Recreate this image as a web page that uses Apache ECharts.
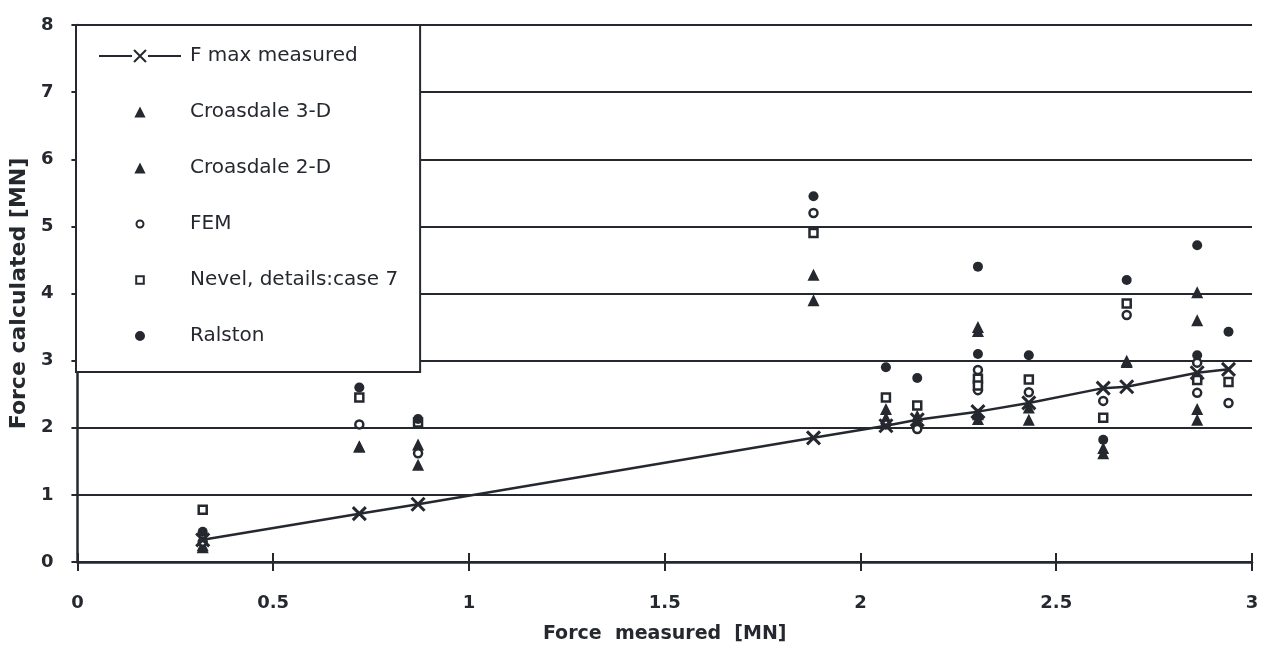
<!DOCTYPE html>
<html>
<head>
<meta charset="utf-8">
<script src="https://cdn.jsdelivr.net/npm/echarts@6/dist/echarts.min.js"></script>
<style>
  html, body { margin: 0; padding: 0; background: #fff; }
  #chart { width: 1269px; height: 655px; }
</style>
</head>
<body>
<div id="chart"></div>
<script>
// Measured ice force for each test [MN]
const measuredForce = [0.32, 0.72, 0.87, 1.88, 2.065, 2.145, 2.30, 2.43, 2.62, 2.68, 2.86, 2.94];
// Maximum measured force, plotted as the reference line
const fMaxMeasured = [0.33, 0.72, 0.86, 1.85, 2.03, 2.12, 2.24, 2.37, 2.59, 2.61, 2.82, 2.87];
// Calculated forces per method; a list holds several runs at the same measured force
const croasdale3D = [0.22, 1.72, 1.75, 4.28, 2.28, 2.18, [3.50, 2.20], 2.30, 1.70, 3.00, [4.02, 2.28], null];
const croasdale2D = [0.25, 1.72, 1.45, 3.90, 2.15, 2.10, [3.44, 2.13], 2.12, 1.62, 2.98, [3.60, 2.12], null];
const fem         = [0.30, 2.05, 1.62, 5.20, 2.05, 1.98, [2.86, 2.56], 2.53, 2.40, 3.68, [2.97, 2.52], 2.37];
const nevel       = [0.78, 2.45, 2.08, 4.90, 2.45, 2.33, [2.73, 2.63], 2.72, 2.15, 3.85, 2.71, 2.68];
const ralston     = [0.45, 2.60, 2.13, 5.45, 2.90, 2.74, [4.40, 3.10], 3.08, 1.82, 4.20, [4.72, 3.08], 3.43];

const xTicks = { min: 0, max: 3, interval: 0.5 };
const yTicks = { min: 0, max: 8, interval: 1 };

const ink = '#25292f';
const font = 'DejaVu Sans';

// Turn an aligned list of values into [x, y] pairs
function pairs(values) {
  const out = [];
  values.forEach((v, i) => {
    if (v === null || v === undefined) return;
    (Array.isArray(v) ? v : [v]).forEach(y => out.push([measuredForce[i], y]));
  });
  return out;
}

const crossSymbol = 'path://M0,0 L10,10 M10,0 L0,10';
// Legend icons: the extra move-to points pad the icon box so the mark stays small
const legendIcons = {
  line: 'path://M0,6 L33,6 M35,0 L47,12 M47,0 L35,12 M49,6 L82,6',
  triangle: 'path://M0,0 M12,12 M6,0.5 L11.6,11.5 L0.4,11.5 Z',
  circle: 'path://M0,0 M12,12 M6,2.5 A3.5,3.5 0 1 1 5.99,2.5 Z',
  square: 'path://M0,0 M12,12 M2.2,2.2 L9.8,2.2 L9.8,9.8 L2.2,9.8 Z',
  dot: 'path://M0,0 M12,12 M6,1 A5,5 0 1 1 5.99,1 Z'
};

const chart = echarts.init(document.getElementById('chart'), null, { renderer: 'canvas' });

chart.setOption({
  backgroundColor: '#fff',
  animation: false,
  grid: { left: 76, right: 17, top: 25, bottom: 93, containLabel: false },
  legend: {
    orient: 'vertical',
    left: 76,
    top: 25,
    padding: [21, 22, 26, 22],
    itemWidth: 82,
    itemHeight: 12,
    itemGap: 36,
    symbolKeepAspect: true,
    backgroundColor: '#fff',
    borderColor: ink,
    borderWidth: 2,
    borderRadius: 0,
    textStyle: { fontFamily: font, fontSize: 20, color: ink, padding: [0, 0, 0, 4] },
    data: [
      { name: 'F max measured', icon: legendIcons.line },
      { name: 'Croasdale 3-D', icon: legendIcons.triangle },
      { name: 'Croasdale 2-D', icon: legendIcons.triangle },
      { name: 'FEM', icon: legendIcons.circle },
      { name: 'Nevel, details:case 7', icon: legendIcons.square },
      { name: 'Ralston', icon: legendIcons.dot }
    ]
  },
  xAxis: [
    {
      type: 'value',
      min: xTicks.min, max: xTicks.max, interval: xTicks.interval,
      name: 'Force  measured  [MN]',
      nameLocation: 'middle',
      nameGap: 63,
      nameTextStyle: { fontFamily: font, fontSize: 19, fontWeight: 'bold', color: ink },
      axisLine: { show: true, lineStyle: { color: ink, width: 2.5 } },
      axisTick: { show: true, inside: false, length: 9, lineStyle: { color: ink, width: 2 } },
      axisLabel: { margin: 32, fontFamily: font, fontSize: 18, fontWeight: 'bold', color: ink },
      splitLine: { show: false }
    },
    {
      type: 'value',
      position: 'bottom',
      min: xTicks.min, max: xTicks.max, interval: xTicks.interval,
      axisLine: { show: false },
      axisTick: { show: true, inside: true, length: 9, lineStyle: { color: ink, width: 2 } },
      axisLabel: { show: false },
      splitLine: { show: false }
    }
  ],
  yAxis: {
    type: 'value',
    min: yTicks.min, max: yTicks.max, interval: yTicks.interval,
    name: 'Force calculated [MN]',
    nameLocation: 'middle',
    nameGap: 45,
    nameTextStyle: { fontFamily: font, fontSize: 22, fontWeight: 'bold', color: ink },
    axisLine: { show: true, lineStyle: { color: ink, width: 2.5 } },
    axisTick: { show: true, inside: false, length: 6, lineStyle: { color: ink, width: 2 } },
    axisLabel: { margin: 24, fontFamily: font, fontSize: 18, fontWeight: 'bold', color: ink },
    splitLine: { show: true, lineStyle: { color: ink, width: 2.2 } }
  },
  series: [
    {
      name: 'F max measured',
      type: 'line',
      data: measuredForce.map((x, i) => [x, fMaxMeasured[i]]),
      symbol: crossSymbol,
      symbolSize: 13,
      showAllSymbol: true,
      lineStyle: { color: ink, width: 2.5 },
      itemStyle: { color: ink, borderColor: ink, borderWidth: 3 },
      z: 5
    },
    {
      name: 'Croasdale 3-D',
      type: 'scatter',
      data: pairs(croasdale3D),
      symbol: 'triangle',
      symbolSize: 12,
      symbolKeepAspect: true,
      itemStyle: { color: ink, opacity: 1 }
    },
    {
      name: 'Croasdale 2-D',
      type: 'scatter',
      data: pairs(croasdale2D),
      symbol: 'triangle',
      symbolSize: 12,
      symbolKeepAspect: true,
      itemStyle: { color: ink, opacity: 1 }
    },
    {
      name: 'FEM',
      type: 'scatter',
      data: pairs(fem),
      symbol: 'circle',
      symbolSize: 8,
      itemStyle: { color: '#fff', borderColor: ink, borderWidth: 2.5, opacity: 1 }
    },
    {
      name: 'Nevel, details:case 7',
      type: 'scatter',
      data: pairs(nevel),
      symbol: 'rect',
      symbolSize: 8,
      symbolKeepAspect: true,
      itemStyle: { color: '#fff', borderColor: ink, borderWidth: 2.5, opacity: 1 }
    },
    {
      name: 'Ralston',
      type: 'scatter',
      data: pairs(ralston),
      symbol: 'circle',
      symbolSize: 10,
      itemStyle: { color: ink, opacity: 1 }
    }
  ]
});
</script>
</body>
</html>
